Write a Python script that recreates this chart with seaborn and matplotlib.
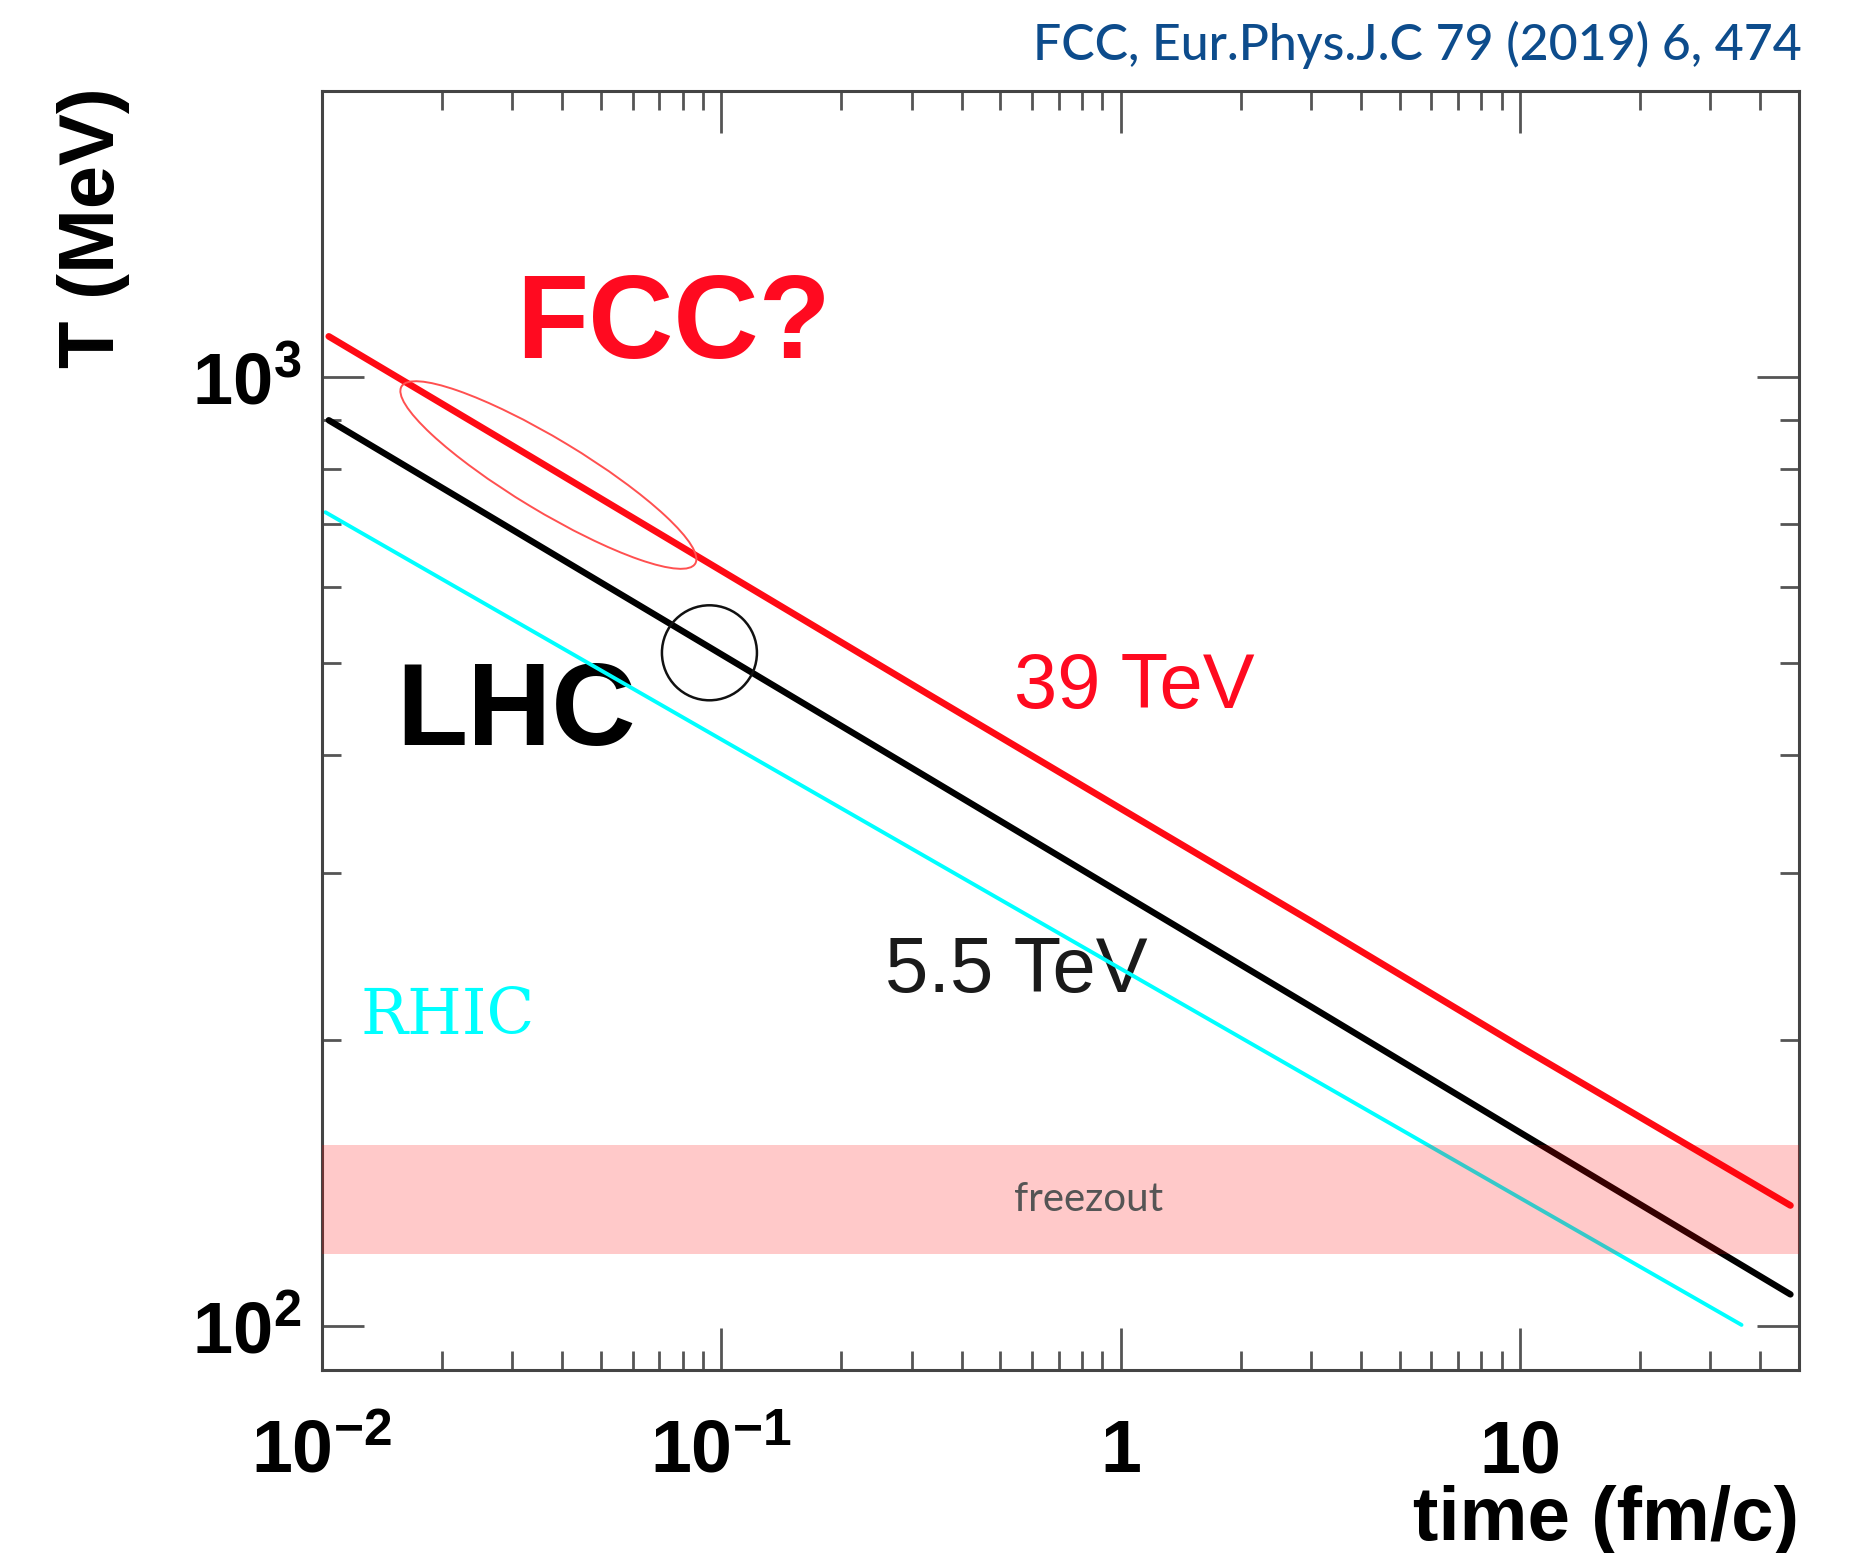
import numpy as np
import pandas as pd
import matplotlib
matplotlib.use("Agg")
import matplotlib.pyplot as plt
import seaborn as sns
from matplotlib.patches import Ellipse, Circle
from matplotlib.transforms import IdentityTransform
from matplotlib.ticker import LogLocator, NullFormatter

# ---------------- data ----------------
time_fcc = [0.0104, 0.03, 0.085, 0.33, 1.0, 3.0, 10.0, 47.6]
temp_fcc = [1103, 846, 651, 463, 351, 267, 197, 134]

time_lhc = [0.0104, 0.03, 0.0934, 0.33, 1.0, 3.0, 10.0, 47.6]
temp_lhc = [900, 690, 519, 378, 286, 217, 160, 108]

time_rhic = [0.0102, 0.1, 1.0, 10.0, 35.9]
temp_rhic = [720, 415, 238, 136.5, 100.3]

freezeout_band = [119, 155]

x_limits = [0.01, 50]
y_limits = [90, 2000]
xtick_values = [0.01, 0.1, 1, 10]
xtick_labels = [r"$10^{-2}$", r"$10^{-1}$", r"$1$", r"$10$"]
ytick_values = [100, 1000]
ytick_labels = [r"$10^{2}$", r"$10^{3}$"]

title_text = "FCC, Eur.Phys.J.C 79 (2019) 6, 474"

# ---------------- style ----------------
sns.set_style("ticks")
plt.rcParams["font.family"] = ["Liberation Sans", "DejaVu Sans"]
plt.rcParams["mathtext.fontset"] = "custom"
plt.rcParams["mathtext.bf"] = "Liberation Sans:bold"
plt.rcParams["mathtext.rm"] = "Liberation Sans:bold"
plt.rcParams["mathtext.default"] = "bf"
plt.rcParams["text.color"] = "black"
plt.rcParams["axes.labelcolor"] = "black"

fig = plt.figure(figsize=(18.6, 15.53), dpi=100)
ax = fig.add_axes([0.1731, 0.1181, 0.7941, 0.8233])
ax.set_xscale("log")
ax.set_yscale("log")
ax.set_xlim(*x_limits)
ax.set_ylim(*y_limits)

# ---------------- lines ----------------
df = pd.concat([
    pd.DataFrame({"time": time_fcc, "T": temp_fcc, "series": "39 TeV"}),
    pd.DataFrame({"time": time_lhc, "T": temp_lhc, "series": "5.5 TeV"}),
    pd.DataFrame({"time": time_rhic, "T": temp_rhic, "series": "RHIC"}),
], ignore_index=True)

palette = {"39 TeV": "#FF0A14", "5.5 TeV": "#000000", "RHIC": "#00FFFF"}
widths = {"39 TeV": 4.8, "5.5 TeV": 4.6, "RHIC": 2.8}
for name, sub in df.groupby("series", sort=False):
    sns.lineplot(data=sub, x="time", y="T", color=palette[name],
                 linewidth=widths[name], estimator=None, sort=False,
                 legend=False, ax=ax, zorder=2)

# freeze-out band on top (translucent)
ax.axhspan(freezeout_band[0], freezeout_band[1], color="#FF0000",
           alpha=0.21, lw=0, zorder=3)

# ---------------- axes styling ----------------
ax.set_xticks(xtick_values, labels=xtick_labels)
ax.set_yticks(ytick_values, labels=ytick_labels)
ax.xaxis.set_minor_locator(LogLocator(base=10, subs=np.arange(2, 10), numticks=100))
ax.yaxis.set_minor_locator(LogLocator(base=10, subs=np.arange(2, 10), numticks=100))
ax.xaxis.set_minor_formatter(NullFormatter())
ax.yaxis.set_minor_formatter(NullFormatter())

ax.tick_params(which="both", direction="in", top=True, right=True,
               color="#555555", width=2.0, labelcolor="black")
ax.tick_params(which="major", length=30)
ax.tick_params(which="minor", length=14)
ax.tick_params(axis="x", which="major", labelsize=53, pad=74)
ax.tick_params(axis="y", which="major", labelsize=52, pad=15)
for lbl in ax.get_xticklabels():
    lbl.set_verticalalignment("baseline")

for side, sp in ax.spines.items():
    sp.set_linewidth(2.2)
    sp.set_color("#444444")
    sp.set_visible(True)

ax.set_ylabel("T (MeV)", fontsize=56, fontweight="bold", loc="top",
              color="black")
ax.yaxis.set_label_coords(-0.130, 1.003)
ax.set_xlabel("time (fm/c)", fontsize=55, fontweight="bold", loc="right",
              color="black")
ax.xaxis.set_label_coords(1.0, -0.1335)
ax.xaxis.label.set_verticalalignment("baseline")

# ---------------- annotations (below the curves) ----------------
ax.text(0.0307, 1046, "FCC?", color="#FF0A20", fontsize=85,
        fontweight="bold", ha="left", va="baseline", zorder=1.5)
ax.text(0.01539, 409, "LHC", color="#000000", fontsize=84,
        fontweight="bold", ha="left", va="baseline", zorder=1.5)
ax.text(0.541, 447.6, "39 TeV", color="#FF0A20", fontsize=56,
        ha="left", va="baseline", zorder=1.5)
ax.text(0.2577, 224.7, "5.5 TeV", color="#1A1A1A", fontsize=56,
        ha="left", va="baseline", zorder=1.5)
ax.text(0.01251, 203, "RHIC", color="#00FFFF", fontsize=45,
        family=["DejaVu Serif"], ha="left", va="baseline", zorder=1.5)
ax.text(0.832, 135.9, "freezout", color="#555555", fontsize=29,
        family=["Lato", "DejaVu Sans"], ha="center", va="center", zorder=5)

# ellipse around early FCC curve, circle on LHC curve (pixel-sized shapes)
ex, ey = ax.transData.transform((0.0369, 788))
ax.add_patch(Ellipse((ex, ey), width=343, height=72, angle=-31.1,
                     transform=IdentityTransform(), fill=False,
                     edgecolor="#FF5050", linewidth=1.4, zorder=4))
cx, cy = ax.transData.transform((0.0934, 512))
ax.add_patch(Circle((cx, cy), radius=47.5, transform=IdentityTransform(),
                    fill=False, edgecolor="#111111", linewidth=1.8, zorder=4))

fig.text(0.9688, 0.9614, title_text, ha="right", va="baseline",
         fontsize=36, color="#0D4C8C", family=["Lato", "DejaVu Sans"],
         fontweight="medium")

fig.savefig("out.png", dpi=100, facecolor="white")
